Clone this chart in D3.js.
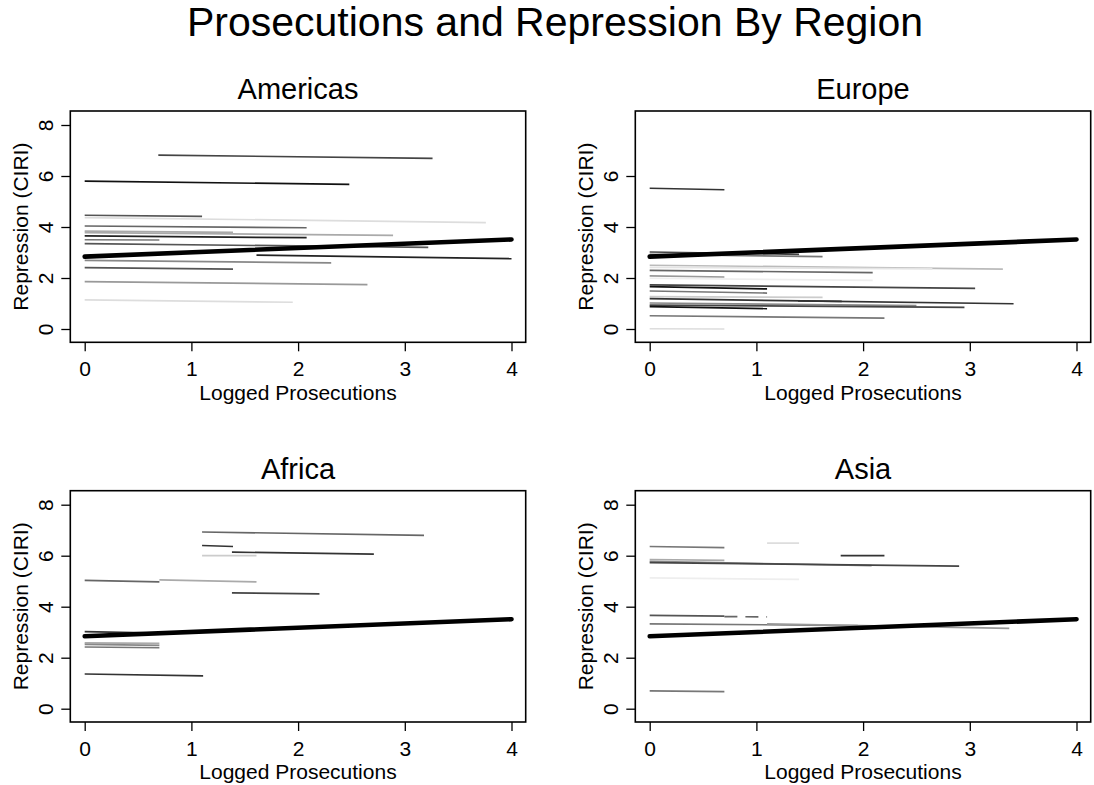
<!DOCTYPE html>
<html>
<head>
<meta charset="utf-8">
<script src="https://cdn.jsdelivr.net/npm/d3@7"></script>
<style>
body { margin: 0; background: #fff; }
text { font-family: "Liberation Sans", Arial, sans-serif; fill: #000; }
</style>
</head>
<body>
<svg id="viz" width="1094" height="785"></svg>
<script>
var regions = ["Americas", "Europe", "Africa", "Asia"];
var xTicks = [0, 1, 2, 3, 4];
var yTicks = [0, 2, 4, 6, 8];
var yTicksEurope = [0, 2, 4, 6];

// one segment per country: [logged prosecutions start, CIRI start, end, CIRI end]
var americas = [
  [0.69, 6.82, 3.26, 6.69], [0, 5.80, 2.48, 5.67], [0, 4.46, 1.10, 4.42],
  [0, 4.37, 3.76, 4.17], [0, 4.04, 2.08, 3.97], [0, 3.84, 1.39, 3.79],
  [0, 3.78, 2.89, 3.67], [0, 3.65, 2.08, 3.58], [0, 3.50, 0.70, 3.49],
  [0, 3.35, 3.22, 3.20], [1.61, 2.90, 4.00, 2.76], [0, 2.69, 2.31, 2.59],
  [0, 2.41, 1.39, 2.35], [0, 1.86, 2.65, 1.74], [0, 1.14, 1.95, 1.05]
];
var americasShade = ["#444", "#111", "#555", "#ddd", "#666", "#aaa", "#aaa", "#222",
  "#777", "#555", "#222", "#888", "#555", "#999", "#ddd"];

var europe = [
  [0, 5.52, 0.70, 5.46], [0, 3.02, 1.40, 2.93], [0, 2.93, 1.62, 2.84],
  [0, 2.50, 3.31, 2.35], [0, 2.42, 2.65, 2.36], [0, 2.30, 2.09, 2.21],
  [0, 2.08, 0.70, 2.04], [0, 1.99, 2.09, 1.91], [0, 1.73, 3.05, 1.59],
  [0, 1.66, 1.10, 1.57], [0, 1.49, 1.10, 1.41], [0, 1.27, 1.62, 1.24],
  [0, 1.19, 1.80, 1.08], [1.39, 1.10, 3.41, 0.99], [0, 1.02, 2.50, 0.92],
  [0, 0.94, 2.95, 0.85], [0, 0.88, 1.10, 0.80], [0, 0.52, 2.20, 0.43],
  [0, 0.01, 0.70, 0.00]
];
var europeShade = ["#333", "#444", "#777", "#bbb", "#e4e4e4", "#666", "#999", "#eee",
  "#444", "#111", "#777", "#ccc", "#333", "#333", "#888", "#444", "#111", "#777", "#ddd"];

var africa = [
  [1.10, 6.93, 3.18, 6.80], [1.10, 6.40, 1.39, 6.36], [1.38, 6.14, 2.71, 6.06],
  [1.10, 6.00, 1.61, 6.00], [0, 5.03, 0.70, 4.97], [0.70, 5.05, 1.61, 4.97],
  [1.38, 4.54, 2.20, 4.50], [0, 3.02, 0.70, 2.96], [0, 2.58, 0.70, 2.56],
  [0, 2.52, 0.70, 2.48], [0, 2.42, 0.70, 2.39], [0, 1.36, 1.11, 1.29]
];
var africaShade = ["#666", "#333", "#333", "#ccc", "#666", "#aaa", "#444", "#333",
  "#aaa", "#888", "#777", "#333"];

var asia = [
  [0, 6.36, 0.70, 6.32], [1.10, 6.49, 1.40, 6.49], [1.79, 6.00, 2.20, 6.00],
  [0, 5.85, 0.70, 5.82], [0, 5.78, 2.08, 5.61], [0, 5.73, 2.90, 5.59],
  [0, 5.13, 1.40, 5.07], [0, 3.66, 0.70, 3.63], [0.70, 3.61, 1.10, 3.60],
  [0, 3.33, 1.95, 3.26], [1.10, 3.33, 3.37, 3.15], [0, 0.70, 0.70, 0.67]
];
var asiaShade = ["#777", "#ddd", "#333", "#aaa", "#888", "#444", "#eee", "#555",
  "#666", "#777", "#999", "#777"];
var asiaDashed = [8];

// pooled fit, same in every panel
var fitLine = [[0, 2.84], [4, 3.51]];

var panelData = [americas, europe, africa, asia];
var panelShade = [americasShade, europeShade, africaShade, asiaShade];
var panelDashed = [[], [], [], asiaDashed];
var panelYTicks = [yTicks, yTicksEurope, yTicks, yTicks];

var boxW = 455.4, boxH = 231.3;
var boxLeft = [70.3, 635.3];
var boxTop = [111, 490.7];

var svg = d3.select("#viz");

svg.append("text")
    .attr("x", 555)
    .attr("y", 36)
    .attr("text-anchor", "middle")
    .style("font-size", "41px")
    .text("Prosecutions and Repression By Region");

regions.forEach(function(name, i) {
    var left = boxLeft[i % 2], top = boxTop[Math.floor(i / 2)];
    var g = svg.append("g").attr("transform", "translate(" + left + "," + top + ")");

    var x = d3.scaleLinear().domain([0, 4]).range([14.4, 441.2]);
    var y = d3.scaleLinear().domain([0, 8]).range([218, 14]);

    var line = d3.line()
        .x(function(d) { return x(d[0]); })
        .y(function(d) { return y(d[1]); });

    g.append("g").selectAll("path")
        .data(panelData[i])
        .enter()
        .append("path")
        .attr("d", function(d) { return line([[d[0], d[1]], [d[2], d[3]]]); })
        .attr("fill", "none")
        .attr("stroke", function(d, j) { return panelShade[i][j]; })
        .attr("stroke-width", 1.7)
        .attr("stroke-dasharray", function(d, j) { return panelDashed[i].indexOf(j) > -1 ? "13,8" : null; });

    g.append("path")
        .attr("d", line(fitLine))
        .attr("fill", "none")
        .attr("stroke", "#000")
        .attr("stroke-width", 4.6)
        .attr("stroke-linecap", "round");

    g.append("rect")
        .attr("width", boxW)
        .attr("height", boxH)
        .attr("fill", "none")
        .attr("stroke", "#000")
        .attr("stroke-width", 1.6);

    var xAxis = g.append("g")
        .attr("transform", "translate(0," + boxH + ")")
        .call(d3.axisBottom(x).tickValues(xTicks).tickFormat(d3.format("d")).tickSize(9));
    xAxis.select(".domain").remove();
    xAxis.selectAll(".tick line").attr("stroke", "#000").attr("stroke-width", 1.3);
    xAxis.selectAll(".tick text")
        .attr("y", 33.5).attr("dy", 0)
        .style("font-size", "21px")
        .attr("fill", "#000");

    var yAxis = g.append("g")
        .call(d3.axisLeft(y).tickValues(panelYTicks[i]).tickFormat(d3.format("d")).tickSize(9));
    yAxis.select(".domain").remove();
    yAxis.selectAll(".tick line").attr("stroke", "#000").attr("stroke-width", 1.3);
    yAxis.selectAll(".tick text")
        .attr("x", 0).attr("dy", 0)
        .attr("text-anchor", "middle")
        .attr("transform", "translate(-17,0) rotate(-90)")
        .style("font-size", "21px")
        .attr("fill", "#000");

    g.append("text")
        .attr("x", boxW / 2)
        .attr("y", -11.7)
        .attr("text-anchor", "middle")
        .style("font-size", "29px")
        .text(name);

    g.append("text")
        .attr("x", boxW / 2)
        .attr("y", boxH + 57.5)
        .attr("text-anchor", "middle")
        .style("font-size", "21px")
        .text("Logged Prosecutions");

    g.append("text")
        .attr("transform", "translate(-42," + (boxH / 2) + ") rotate(-90)")
        .attr("text-anchor", "middle")
        .style("font-size", "21px")
        .text("Repression (CIRI)");
});
</script>
</body>
</html>
